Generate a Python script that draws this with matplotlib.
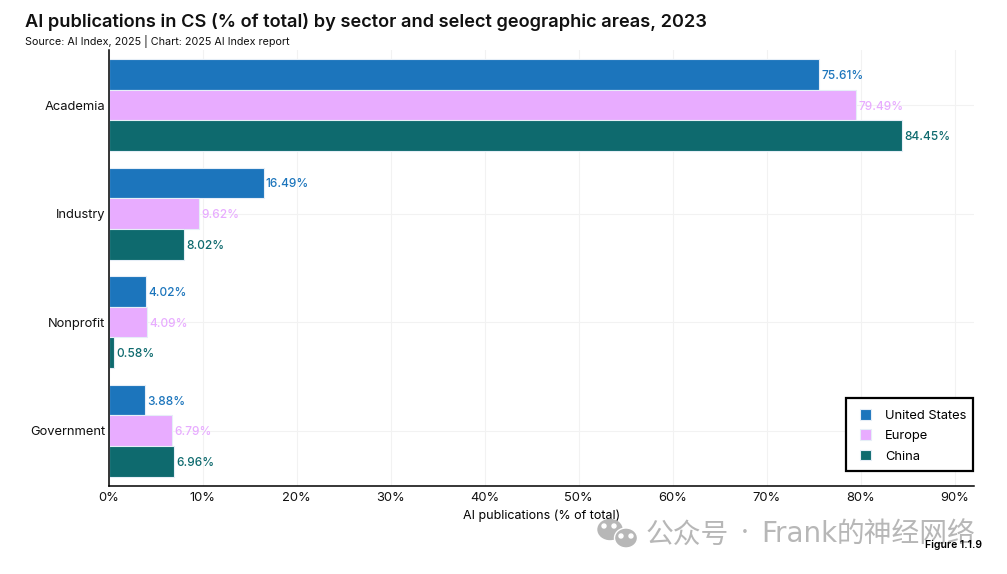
import matplotlib
matplotlib.use('Agg')
import numpy as np
import matplotlib.pyplot as plt
from matplotlib.patches import Ellipse, Rectangle

plt.rcParams['font.family'] = ['Inter', 'Noto Sans CJK SC', 'DejaVu Sans']

sectors = ['Academia', 'Industry', 'Nonprofit', 'Government']
us = [75.61, 16.49, 4.02, 3.88]
europe = [79.49, 9.62, 4.09, 6.79]
china = [84.45, 8.02, 0.58, 6.96]
xticks = [0, 10, 20, 30, 40, 50, 60, 70, 80, 90]

BLUE = '#1c75bc'
PINK = '#e8acff'
TEAL = '#0e6a6e'
MARK = '#b7b7b7'

W, H = 1007, 574
fig = plt.figure(figsize=(W / 100, H / 100), dpi=100)
ax = fig.add_axes([108.5 / W, 1 - 485.5 / H, (974 - 108.5) / W, (485.5 - 50) / H])

y = np.arange(len(sectors))
pitch = 0.283
series = [('United States', us, BLUE, -pitch), ('Europe', europe, PINK, 0), ('China', china, TEAL, pitch)]
for name, vals, col, off in series:
    bars = ax.barh(y + off, vals, height=pitch, color=col, edgecolor='#e6eef7', linewidth=0.8, label=name, zorder=3)
    for b, v in zip(bars, vals):
        ax.text(v + 0.25, b.get_y() + b.get_height() / 2 + 0.015, f'{v:.2f}%', color=col, fontsize=8.6,
                fontweight='medium', va='center', ha='left', zorder=4)

ax.set_xlim(0, 92.07)
ax.set_ylim(3.505, -0.507)
ax.set_xticks(xticks)
ax.set_xticklabels([f'{t}%' for t in xticks], fontsize=9.3)
ax.set_yticks(y)
ax.set_yticklabels(sectors, fontsize=9.3)
ax.tick_params(length=0, pad=2.5, colors='#111111')
ax.tick_params(axis='x', pad=5)
ax.grid(True, color='#f2f2f2', linewidth=0.8, zorder=0)
ax.set_axisbelow(True)
for s in ['top', 'right']:
    ax.spines[s].set_visible(False)
for s in ['left', 'bottom']:
    ax.spines[s].set_linewidth(1.1)
    ax.spines[s].set_color('black')
    ax.spines[s].set_zorder(5)
ax.set_xlabel('AI publications (% of total)', fontsize=9, labelpad=3.5)

# legend box is drawn apart because its paddings are not even
ax.add_patch(Rectangle((846 / W, 1 - 471 / H), 126.7 / W, 73.5 / H, transform=fig.transFigure, facecolor='white',
                       edgecolor='black', linewidth=1.6, clip_on=False, zorder=6))
leg = ax.legend(loc='lower right', bbox_to_anchor=(966.5 / W, 1 - 462.5 / H), bbox_transform=fig.transFigure,
                fontsize=9.3, frameon=False, handlelength=0.9, handleheight=0.9, handletextpad=1.08,
                labelspacing=0.58, borderpad=0, borderaxespad=0)
leg.set_zorder(7)

fig.text(25 / W, 1 - 22 / H, 'AI publications in CS (% of total) by sector and select geographic areas, 2023',
         fontsize=13.1, fontweight='semibold', va='center', ha='left', color='#111111')
fig.text(25 / W, 1 - 41 / H, 'Source: AI Index, 2025 | Chart: 2025 AI Index report', fontsize=7.75,
         va='center', ha='left', color='#111111')

# watermark, on an overlay in pixel coordinates
icon = fig.add_axes([0, 0, 1, 1], facecolor='none')
icon.set_xlim(0, W)
icon.set_ylim(H, 0)
icon.axis('off')
icon.add_patch(Ellipse((610, 529.5), 24, 20, color=MARK))
icon.add_patch(Ellipse((626, 538), 23, 20, facecolor=MARK, edgecolor='white', linewidth=1))
for ex, ey in [(604, 526), (614, 526), (621, 536), (631, 536)]:
    icon.add_patch(Ellipse((ex, ey), 4, 4, color='white'))
icon.text(646, 536, '公众号', fontsize=20, color=MARK, va='center', ha='left')
icon.text(745, 534, '·', fontsize=20, color=MARK, va='center', ha='center')
icon.text(761, 534, 'Frank', fontsize=20, color=MARK, va='center', ha='left', family=['DejaVu Sans'])
icon.text(975, 536, '的神经网络', fontsize=20, color=MARK, va='center', ha='right')

icon.text(982, 545, 'Figure 1.1.9', fontsize=7.5, fontweight='semibold', va='center', ha='right', color='black')

fig.savefig('out.png', dpi=100)
